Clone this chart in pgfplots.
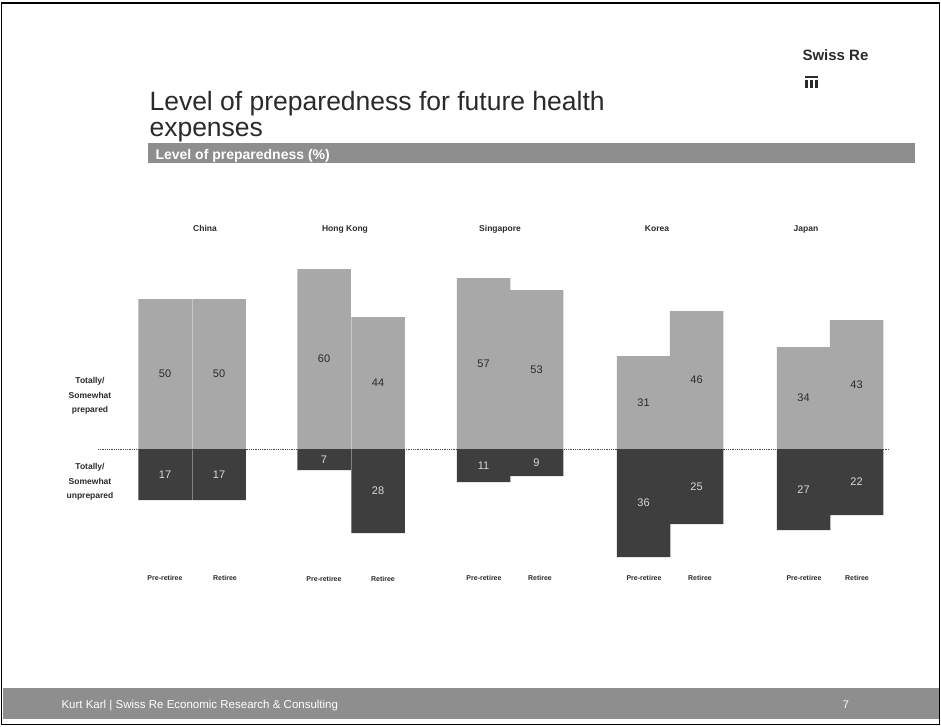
\documentclass[border=0pt]{standalone}
\usepackage{pgfplots}
\pgfplotsset{compat=1.18}
\usepackage{fontspec}
\setmainfont{Liberation Sans}
\definecolor{lightbar}{HTML}{A8A8A8}
\definecolor{darkbar}{HTML}{3E3E3E}
\definecolor{banner}{HTML}{8E8E8E}
\definecolor{ink}{HTML}{2A2A2A}
\begin{document}
\begin{tikzpicture}[x=1pt,y=-1pt]
\path[use as bounding box] (0,0) rectangle (941,726);
\draw[line width=1.4pt] (1.5,3) -- (939.5,3) -- (939.5,724.5) -- (1.5,724.5) -- cycle;
% title
\node[anchor=base west, font=\fontsize{26.5}{30}\selectfont, text=ink] at (146,110) {Level of preparedness for future health};
\node[anchor=base west, font=\fontsize{26.5}{30}\selectfont, text=ink] at (146,136) {expenses};
\node[anchor=base west, font=\bfseries\fontsize{15}{18}\selectfont, text=ink] at (799,60) {Swiss Re};
\fill[ink] (805,76) rectangle (818,78);
\fill[ink] (805,80) rectangle (807.5,88);
\fill[ink] (810,80) rectangle (812.5,88);
\fill[ink] (815,80) rectangle (817.5,88);
% banner
\fill[banner] (148,143) rectangle (915,163);
\node[anchor=base west, font=\bfseries\fontsize{14}{16}\selectfont, text=white] at (152,159) {Level of preparedness (\%)};
% footer
\fill[banner] (3,688) rectangle (939,719);
\node[anchor=base west, font=\fontsize{11.5}{13}\selectfont, text=white] at (58,708) {Kurt Karl | Swiss Re Economic Research \& Consulting};
\node[anchor=base, font=\fontsize{11}{12}\selectfont, text=white] at (846,708) {7};
% country labels
\begin{scope}[every node/.style={anchor=base, font=\bfseries\fontsize{8.5}{10}\selectfont, text=ink}]
\node at (205,231) {China};
\node at (345,231) {Hong Kong};
\node at (500,231) {Singapore};
\node at (657,231) {Korea};
\node at (806,231) {Japan};
\end{scope}
% side labels
\node[align=center, font=\bfseries\fontsize{8.5}{14.5}\selectfont, text=ink] at (90,396) {Totally/\\Somewhat\\prepared};
\node[align=center, font=\bfseries\fontsize{8.5}{14.5}\selectfont, text=ink] at (90,482) {Totally/\\Somewhat\\unprepared};
% bottom labels
\begin{scope}[every node/.style={anchor=base, font=\bfseries\fontsize{7}{8}\selectfont, text=ink}]
\node at (165,580) {Pre-retiree}; \node at (225,580) {Retiree};
\node at (324,581) {Pre-retiree}; \node at (383,581) {Retiree};
\node at (484,580) {Pre-retiree}; \node at (540,580) {Retiree};
\node at (644,580) {Pre-retiree}; \node at (700,580) {Retiree};
\node at (804,580) {Pre-retiree}; \node at (857,580) {Retiree};
\end{scope}
\begin{axis}[
  at={(100pt,-569pt)}, anchor=south west,
  scale only axis, width=800pt, height=315pt,
  xmin=100, xmax=900, ymin=-40, ymax=65,
  axis lines=none, clip=false,
  /pgf/number format/assume math mode=true,
]
\addplot[densely dotted, line width=0.8pt, black!70] coordinates {(98,0) (890,0)};
\pgfplotsset{mybar/.style={ybar, bar width=53.5pt, bar shift=0pt, draw=none,
  point meta=explicit, visualization depends on=y \as \rawy,
  nodes near coords,
  every node near coord/.append style={anchor=center, shift={(axis direction cs:0,-\rawy/2)}, font=\fontsize{11}{12}\selectfont}}}
% pre-retiree prepared
\addplot[mybar, fill=lightbar, every node near coord/.append style={text=ink}] coordinates
 {(165,50) [50] (324,60) [60] (483.5,57) [57] (643.5,31) [31] (803.5,34) [34]};
% retiree prepared
\addplot[mybar, fill=lightbar, every node near coord/.append style={text=ink}] coordinates
 {(219,50) [50] (378,44) [44] (536.5,53) [53] (696.5,46) [46] (856.5,43) [43]};
% pre-retiree unprepared
\addplot[mybar, fill=darkbar, every node near coord/.append style={text=black!15}] coordinates
 {(165,-17) [17] (324,-7) [7] (483.5,-11) [11] (643.5,-36) [36] (803.5,-27) [27]};
% retiree unprepared
\addplot[mybar, fill=darkbar, every node near coord/.append style={text=black!15}] coordinates
 {(219,-17) [17] (378,-28) [28] (536.5,-9) [9] (696.5,-25) [25] (856.5,-22) [22]};
\end{axis}
\end{tikzpicture}
\end{document}
